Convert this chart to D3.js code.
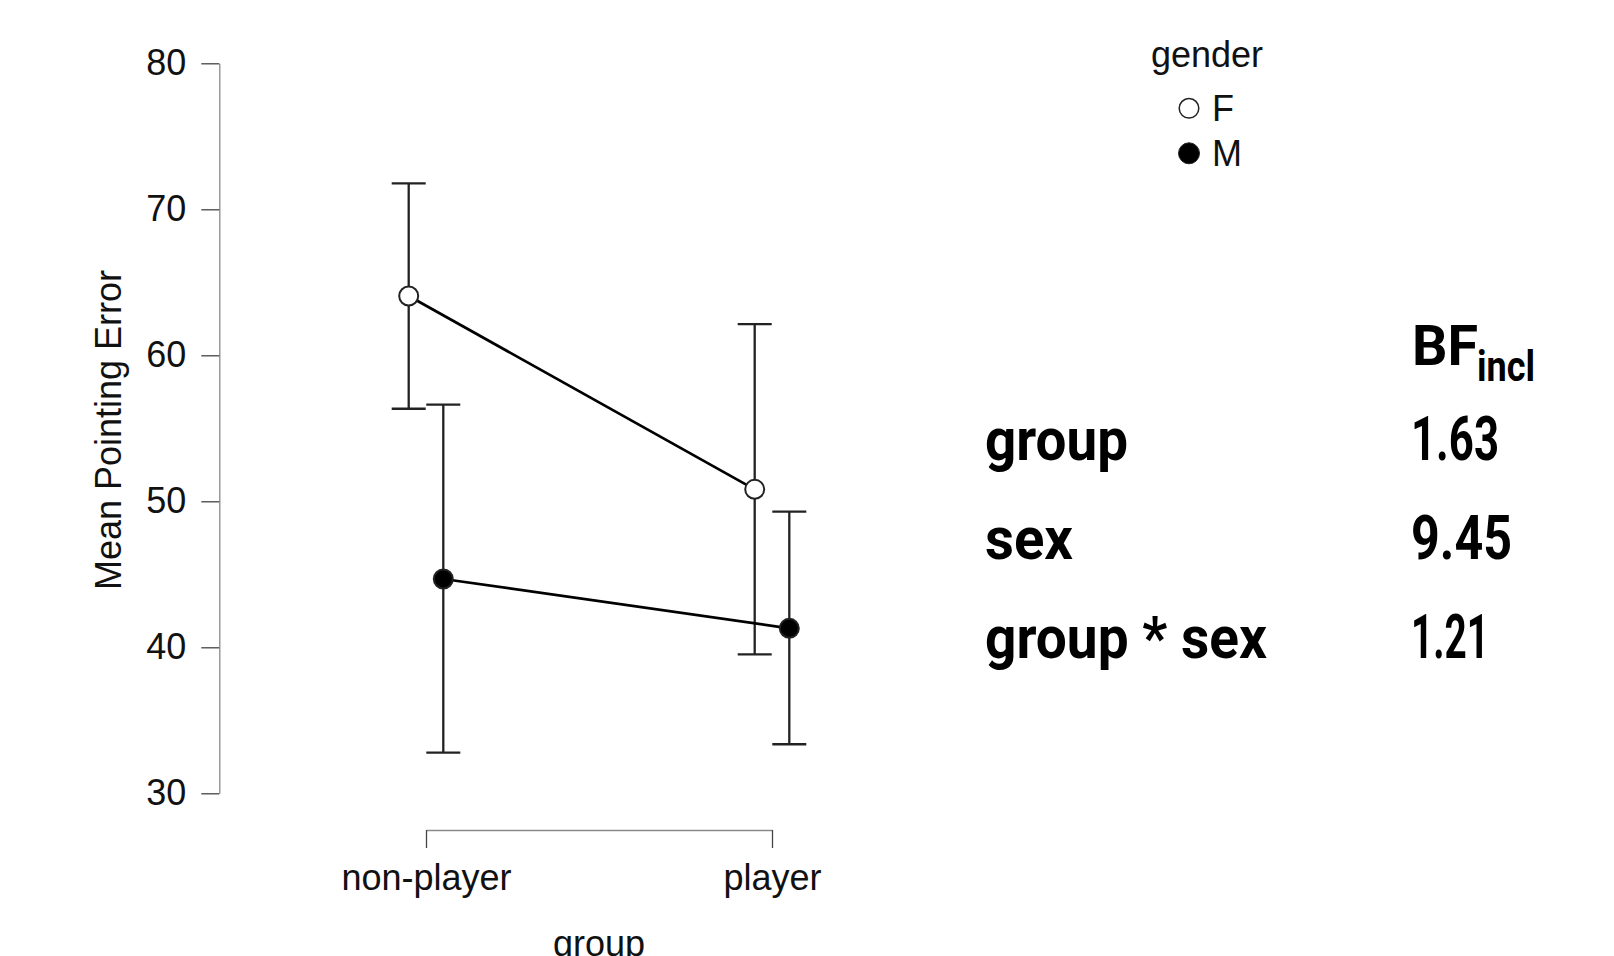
<!DOCTYPE html>
<html>
<head>
<meta charset="utf-8">
<script src="https://cdn.jsdelivr.net/npm/d3@7"></script>
<style>
  html, body { margin: 0; padding: 0; background: #fff; }
  svg { display: block; }
  .axis text { font-family: "Liberation Sans", Arial, sans-serif; fill: #111; }
  .bf { font-family: Roboto, "DejaVu Sans", sans-serif; font-weight: 700; fill: #000; }
</style>
</head>
<body>
<svg id="chart" width="1614" height="956"></svg>
<script>
// Mean pointing error by group and gender, with 95% credible intervals
const groups = ["non-player", "player"];
const genders = ["F", "M"];
const meanF = [64.06, 50.82];
const lowerF = [56.34, 39.52];
const upperF = [71.78, 62.14];
const meanM = [44.68, 41.30];
const lowerM = [32.78, 33.36];
const upperM = [56.62, 49.29];
const yTicks = [30, 40, 50, 60, 70, 80];

// Inclusion Bayes factors
const bfTerms = ["group", "sex", "group * sex"];
const bfValues = ["1.63", "9.45", "1.21"];

const series = [
  { gender: "F", mean: meanF, lower: lowerF, upper: upperF, fill: "#fff" },
  { gender: "M", mean: meanM, lower: lowerM, upper: upperM, fill: "#000" }
];

const svg = d3.select("#chart");

const y = d3.scaleLinear().domain([30, 80]).range([793.3, 63.3]);
const x = d3.scalePoint().domain(groups).range([426, 772]);
const dodge = d3.scalePoint().domain(genders).range([-17.3, 17.3]);
const px = (g, i) => x(groups[i]) + dodge(g);

// Y axis
const yAxis = svg.append("g")
  .attr("class", "axis")
  .attr("transform", "translate(219.3,0)")
  .call(d3.axisLeft(y).tickValues(yTicks).tickSize(18).tickSizeOuter(0).tickPadding(15));
yAxis.select(".domain").attr("stroke", "#8a8a8a").attr("stroke-width", 1.3);
yAxis.selectAll(".tick line").attr("stroke", "#444").attr("stroke-width", 1.3);
yAxis.selectAll(".tick text").attr("font-size", 36);

// X axis (bracket style)
const xAxis = svg.append("g")
  .attr("class", "axis")
  .attr("transform", "translate(0,830)")
  .call(d3.axisBottom(x).tickSize(18).tickSizeOuter(0).tickPadding(16));
xAxis.select(".domain").attr("stroke", "#8a8a8a").attr("stroke-width", 1.3);
xAxis.selectAll(".tick line").attr("stroke", "#444").attr("stroke-width", 1.3);
xAxis.selectAll(".tick text").attr("font-size", 36);

// Axis titles
svg.append("text")
  .attr("transform", "translate(121,430) rotate(-90)")
  .attr("text-anchor", "middle")
  .attr("font-family", "Liberation Sans, Arial, sans-serif")
  .attr("font-size", 36)
  .attr("fill", "#111")
  .text("Mean Pointing Error");

svg.append("text")
  .attr("x", (x.range()[0] + x.range()[1]) / 2)
  .attr("y", 956)
  .attr("text-anchor", "middle")
  .attr("font-family", "Liberation Sans, Arial, sans-serif")
  .attr("font-size", 36)
  .attr("fill", "#111")
  .text("group");

// Error bars
const capHalf = 17;
series.forEach(s => {
  const g = svg.append("g").attr("stroke", "#222").attr("stroke-width", 2.3);
  groups.forEach((grp, i) => {
    const cx = px(s.gender, i);
    g.append("line").attr("x1", cx).attr("x2", cx).attr("y1", y(s.lower[i])).attr("y2", y(s.upper[i]));
    g.append("line").attr("x1", cx - capHalf).attr("x2", cx + capHalf).attr("y1", y(s.upper[i])).attr("y2", y(s.upper[i]));
    g.append("line").attr("x1", cx - capHalf).attr("x2", cx + capHalf).attr("y1", y(s.lower[i])).attr("y2", y(s.lower[i]));
  });
});

// Connecting lines
const line = d3.line().x(d => d[0]).y(d => d[1]);
series.forEach(s => {
  svg.append("path")
    .attr("d", line(groups.map((grp, i) => [px(s.gender, i), y(s.mean[i])])))
    .attr("fill", "none")
    .attr("stroke", "#000")
    .attr("stroke-width", 2.7);
});

// Points
series.forEach(s => {
  svg.selectAll(null)
    .data(s.mean)
    .enter().append("circle")
    .attr("cx", (d, i) => px(s.gender, i))
    .attr("cy", d => y(d))
    .attr("r", 9.5)
    .attr("fill", s.fill)
    .attr("stroke", "#222")
    .attr("stroke-width", 2);
});

// Legend
const legend = svg.append("g").attr("font-family", "Liberation Sans, Arial, sans-serif").attr("fill", "#111");
legend.append("text").attr("x", 1151).attr("y", 67).attr("font-size", 36).text("gender");
const legendRow = d3.scalePoint().domain(genders).range([108.3, 153.3]);
series.forEach(s => {
  legend.append("circle")
    .attr("cx", 1189).attr("cy", legendRow(s.gender))
    .attr("r", s.gender === "F" ? 9.8 : 10.5)
    .attr("fill", s.fill)
    .attr("stroke", "#222")
    .attr("stroke-width", s.gender === "F" ? 1.5 : 1);
  legend.append("text")
    .attr("x", 1212).attr("y", legendRow(s.gender) + 12.3)
    .attr("font-size", 36)
    .text(s.gender);
});

// Bayes factor table
const bf = svg.append("g").attr("class", "bf");
bf.append("text").attr("x", 1412).attr("y", 365).attr("font-size", 56)
  .attr("textLength", 66).attr("lengthAdjust", "spacingAndGlyphs").text("BF");
bf.append("text").attr("x", 1477).attr("y", 381).attr("font-size", 42)
  .attr("textLength", 58).attr("lengthAdjust", "spacingAndGlyphs").text("incl");

const rowY = d3.scalePoint().domain(bfTerms).range([460, 658]);
const termWidths = [143, 88, 282];
const valueWidths = [88, 101, 78];
bf.selectAll(".term")
  .data(bfTerms)
  .enter().append("text")
  .attr("class", "term")
  .attr("x", 985)
  .attr("y", d => rowY(d))
  .attr("font-size", 60)
  .attr("textLength", (d, i) => termWidths[i])
  .attr("lengthAdjust", "spacingAndGlyphs")
  .text(d => d);
bf.selectAll(".value")
  .data(bfValues)
  .enter().append("text")
  .attr("class", "value")
  .attr("x", 1411)
  .attr("y", (d, i) => rowY(bfTerms[i]))
  .attr("font-size", 61)
  .attr("textLength", (d, i) => valueWidths[i])
  .attr("lengthAdjust", "spacingAndGlyphs")
  .text(d => d);
</script>
</body>
</html>
